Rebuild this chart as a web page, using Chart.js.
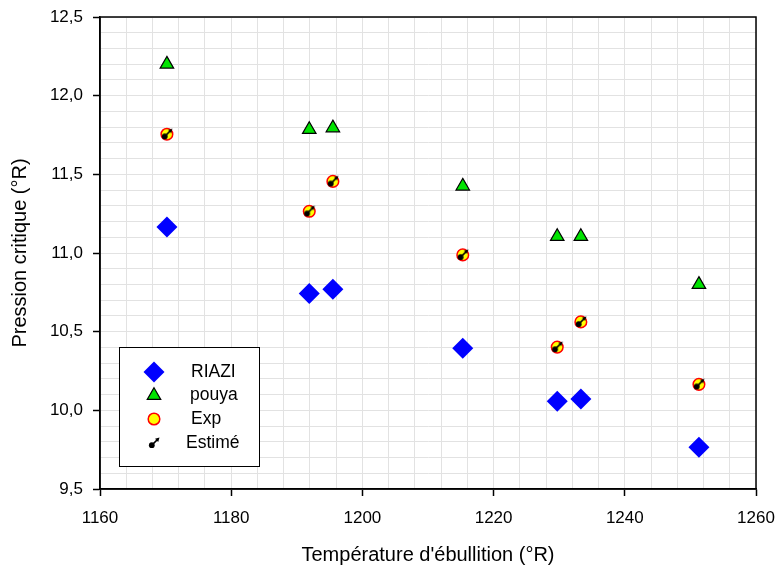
<!DOCTYPE html>
<html>
<head>
<meta charset="utf-8">
<script src="https://cdn.jsdelivr.net/npm/chart.js@4/dist/chart.umd.min.js"></script>
<style>
  html, body { margin: 0; padding: 0; background: #fff; }
  #wrap { width: 779px; height: 572px; }
</style>
</head>
<body>
<div id="wrap"><canvas id="myChart" width="779" height="572"></canvas></div>
<script>
// Température d'ébullition (°R) des échantillons
const temperatures = [1170.2, 1191.9, 1195.5, 1215.3, 1229.7, 1233.3, 1251.3]
// Pression critique selon chaque source
const riazi = [11.165, 10.742, 10.770, 10.395, 10.057, 10.072, 9.765]
const pouya = [12.20, 11.785, 11.795, 11.425, 11.105, 11.105, 10.80]
const exp = [11.755, 11.265, 11.455, 10.988, 10.402, 10.562, 10.165]
const estime = [11.755, 11.265, 11.455, 10.988, 10.402, 10.562, 10.165]

const xTicks = [1160, 1180, 1200, 1220, 1240, 1260]
const yTicks = [9.5, 10.0, 10.5, 11.0, 11.5, 12.0, 12.5]

const FONT = '"Liberation Sans", Arial, sans-serif'

const toPoints = ys => temperatures.map((t, i) => ({ x: t, y: ys[i] }))

// petit marqueur noir avec flèche pour "Estimé"
function makeEstimeMarker() {
    const c = document.createElement('canvas')
    c.width = 16
    c.height = 16
    const g = c.getContext('2d')
    g.fillStyle = '#000'
    g.strokeStyle = '#000'
    g.beginPath()
    g.arc(5.8, 10.2, 2.9, 0, Math.PI * 2)
    g.fill()
    g.lineWidth = 1.7
    g.beginPath()
    g.moveTo(6, 10)
    g.lineTo(11, 5)
    g.stroke()
    g.beginPath()
    g.moveTo(13.5, 2.5)
    g.lineTo(9, 3.8)
    g.lineTo(12.2, 7)
    g.closePath()
    g.fill()
    return c
}
const estimeMarker = makeEstimeMarker()

const isMajorX = v => xTicks.some(t => Math.abs(t - v) < 1e-6)
const isMajorY = v => yTicks.some(t => Math.abs(t - v) < 1e-6)

// cadre noir autour de la zone de tracé
const frame = {
    id: 'frame',
    afterDraw(chart) {
        const { ctx, chartArea: a } = chart
        ctx.save()
        ctx.strokeStyle = '#000'
        ctx.lineWidth = 1.5
        ctx.strokeRect(a.left, a.top, a.right - a.left, a.bottom - a.top)
        ctx.restore()
    }
}

// légende encadrée dans le coin bas gauche
const boxLegend = {
    id: 'boxLegend',
    afterDraw(chart) {
        const { ctx } = chart
        const box = { x: 119.5, y: 347.5, w: 140, h: 119 }
        ctx.save()
        ctx.fillStyle = '#fff'
        ctx.fillRect(box.x, box.y, box.w, box.h)
        ctx.strokeStyle = '#000'
        ctx.lineWidth = 1
        ctx.strokeRect(box.x, box.y, box.w, box.h)
        const rows = [372, 395.5, 419, 443]
        const textX = [191, 190, 191, 186]
        chart.data.datasets.forEach((ds, i) => {
            const y = rows[i]
            ctx.fillStyle = ds.backgroundColor
            ctx.strokeStyle = ds.borderColor
            ctx.lineWidth = ds.borderWidth
            Chart.helpers.drawPoint(ctx, {
                pointStyle: ds.pointStyle,
                radius: ds.pointRadius,
                borderWidth: ds.borderWidth,
                rotation: 0
            }, 154, y)
            ctx.fillStyle = '#000'
            ctx.font = '17.5px ' + FONT
            ctx.textBaseline = 'middle'
            ctx.textAlign = 'left'
            ctx.fillText(ds.label, textX[i], y)
        })
        ctx.restore()
    }
}

const noEdgePadding = s => {
    s.paddingLeft = 0
    s.paddingRight = 0
    s.paddingTop = 0
    s.paddingBottom = 0
}

const ctx = document.getElementById('myChart').getContext('2d')
new Chart(ctx, {
    type: 'scatter',
    data: {
        datasets: [
            {
                label: 'RIAZI',
                data: toPoints(riazi),
                pointStyle: 'rectRot',
                pointRadius: 10.5,
                backgroundColor: '#0000ff',
                borderColor: '#0000ff',
                borderWidth: 0,
                order: 3
            },
            {
                label: 'pouya',
                data: toPoints(pouya),
                pointStyle: 'triangle',
                pointRadius: 7.8,
                backgroundColor: '#00e400',
                borderColor: '#000',
                borderWidth: 1.2,
                order: 2
            },
            {
                label: 'Exp',
                data: toPoints(exp),
                pointStyle: 'circle',
                pointRadius: 5.8,
                backgroundColor: '#ffff00',
                borderColor: '#ff0000',
                borderWidth: 1.5,
                order: 1
            },
            {
                label: 'Estimé',
                data: toPoints(estime),
                pointStyle: estimeMarker,
                pointRadius: 6,
                backgroundColor: '#000',
                borderColor: '#000',
                borderWidth: 0,
                order: 0
            }
        ]
    },
    plugins: [frame, boxLegend],
    options: {
        responsive: false,
        animation: false,
        events: [],
        layout: { padding: { left: 0, top: 17, right: 23, bottom: 0 } },
        plugins: {
            legend: { display: false },
            tooltip: { enabled: false }
        },
        scales: {
            x: {
                type: 'linear',
                min: 1160,
                max: 1260,
                afterFit: s => { s.height = 83; noEdgePadding(s) },
                border: { color: '#000', width: 1.5 },
                grid: {
                    color: '#e2e2e2',
                    lineWidth: 1,
                    tickLength: 7,
                    tickColor: c => isMajorX(c.tick.value) ? '#000' : 'rgba(0,0,0,0)',
                    tickWidth: 1.5
                },
                ticks: {
                    stepSize: 4,
                    autoSkip: false,
                    maxRotation: 0,
                    padding: 12,
                    color: '#000',
                    font: { family: FONT, size: 17 },
                    callback: v => isMajorX(v) ? String(v) : ''
                },
                title: {
                    display: true,
                    text: "Température d'ébullition (°R)",
                    color: '#000',
                    font: { family: FONT, size: 20 },
                    padding: { top: 0, bottom: 5 }
                }
            },
            y: {
                type: 'linear',
                min: 9.5,
                max: 12.5,
                afterFit: s => { s.width = 100; noEdgePadding(s) },
                border: { color: '#000', width: 1.5 },
                grid: {
                    color: '#e2e2e2',
                    lineWidth: 1,
                    tickLength: 7,
                    tickColor: c => isMajorY(c.tick.value) ? '#000' : 'rgba(0,0,0,0)',
                    tickWidth: 1.5
                },
                ticks: {
                    stepSize: 0.1,
                    autoSkip: false,
                    padding: 10,
                    color: '#000',
                    font: { family: FONT, size: 17 },
                    callback: v => isMajorY(v) ? v.toFixed(1).replace('.', ',') : ''
                },
                title: {
                    display: true,
                    text: 'Pression critique (°R)',
                    color: '#000',
                    font: { family: FONT, size: 20 },
                    padding: { top: 8, bottom: 0 }
                }
            }
        }
    }
})
</script>
</body>
</html>
